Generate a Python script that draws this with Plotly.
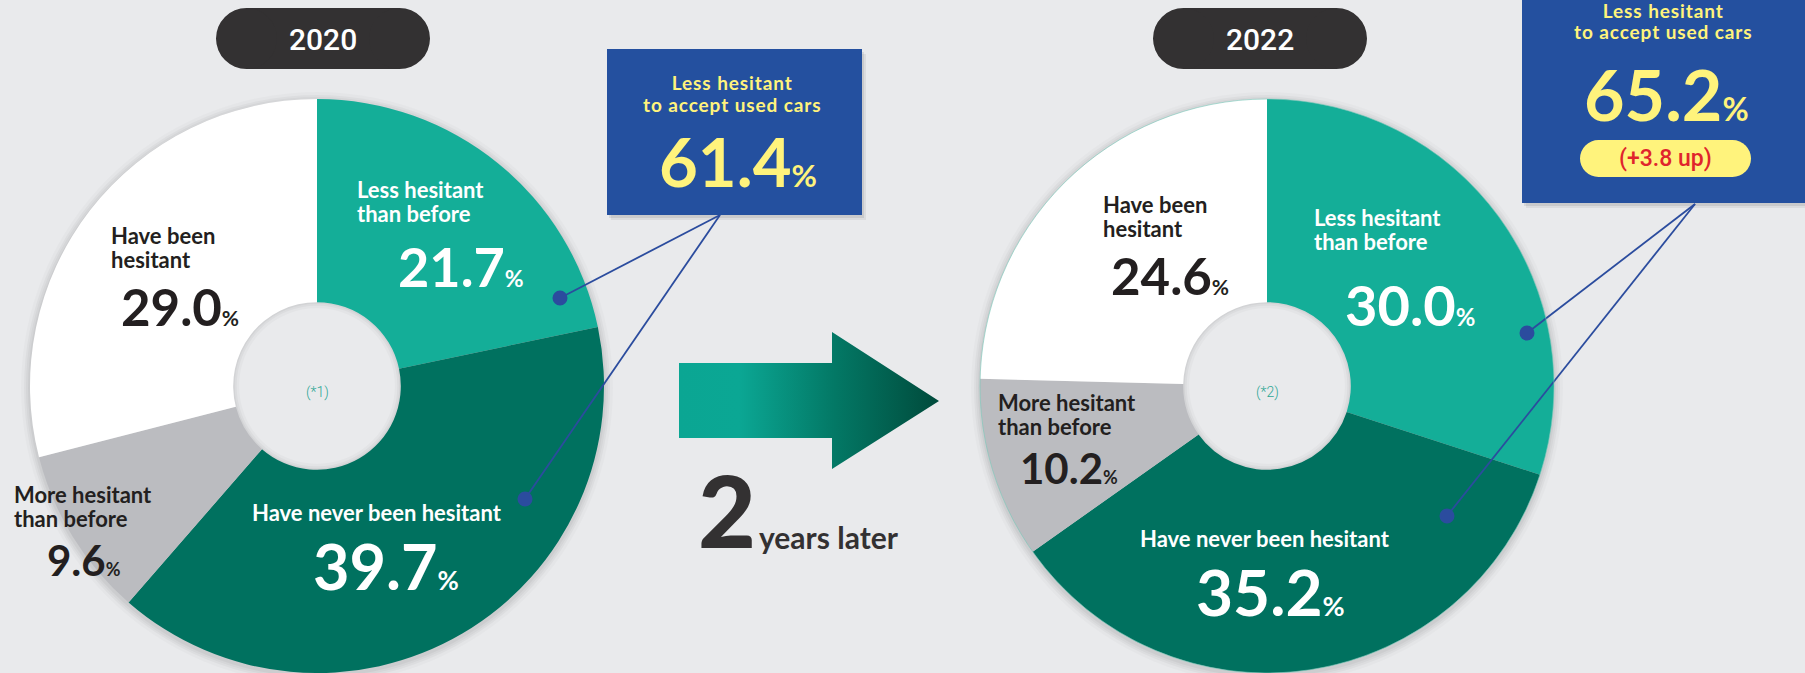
import plotly.graph_objects as go

W, H = 1805, 673

# ---- data -------------------------------------------------------------
years = ["2020", "2022"]
categories = ["Less hesitant than before", "Have never been hesitant",
              "More hesitant than before", "Have been hesitant"]
share_2020 = [21.7, 39.7, 9.6, 29.0]
share_2022 = [30.0, 35.2, 10.2, 24.6]
footnotes = ["(*1)", "(*2)"]
gap_label = ["2", "years later"]

# ---- style ------------------------------------------------------------
BG = "#E9EAEC"
SLICE_COLORS = ["#14AE98", "#00715F", "#BBBCC0", "#FFFFFF"]
LABEL_COLORS = ["#FFFFFF", "#FFFFFF", "#231F20", "#231F20"]
BLUE = "#24509F"
YELLOW = "#FFF37C"
LINE_BLUE = "#2B4C9E"
PILL = "#333132"
FONT = "Lato"
HOLE = 0.292
LABEL_PITCH = 24

# donut geometry (pixels)
donuts = [dict(cx=317, cy=386, r=287), dict(cx=1267, cy=386, r=287)]

# label lines per category
label_lines = [["Less hesitant", "than before"], ["Have never been hesitant"],
               ["More hesitant", "than before"], ["Have been", "hesitant"]]

# label placement per donut (pixels): text x, line y's, number x/y/size, anchor
label_pos = [
    [dict(x=357, ys=[190, 213], nx=399, ny=266, ns=54, a="left"),
     dict(x=377, ys=[512], nx=314, ny=565, ns=63, a="center"),
     dict(x=14, ys=[494, 518], nx=48, ny=560, ns=42, a="left"),
     dict(x=111, ys=[236, 258], nx=122, ny=306, ns=51, a="left")],
    [dict(x=1314, ys=[217, 241], nx=1346, ny=304, ns=56, a="left"),
     dict(x=1265, ys=[538], nx=1197, ny=591, ns=64, a="center"),
     dict(x=998, ys=[403, 426], nx=1021, ny=468, ns=42, a="left"),
     dict(x=1103, ys=[205, 227], nx=1112, ny=275, ns=51, a="left")],
]

# callout boxes and leader dots
callouts = [
    dict(box=(607, 49, 862, 215), apex=(720, 215), tx=732, ty=[82, 104],
         num=(738, 161), ns=67, dots=[(560, 298), (525, 499)]),
    dict(box=(1522, -6, 1812, 203), apex=(1695, 204), tx=1663, ty=[10, 31],
         num=(1666, 94), ns=70, dots=[(1527, 333), (1447, 516)],
         pill=(1580, 140, 1751, 177)),
]
year_pills = [(216, 8, 430, 69), (1153, 8, 1367, 69)]

fig = go.Figure()
shapes = []
annotations = []


def ann(x, y, text, size, color, xanchor="left", family=FONT, weight=700):
    annotations.append(dict(
        x=x, y=y, xref="x", yref="y", text=text, showarrow=False,
        xanchor=xanchor, yanchor="middle", align=xanchor,
        font=dict(family=family, size=size, color=color, weight=weight)))


def stacked(lines, size, gap):
    """Multi-line text whose glyph size differs from the line pitch."""
    return "<br>".join(f"<span style='font-size:{size}px'>{t}</span>"
                       for t in lines), gap / 1.3


def circle(cx, cy, r, fill, layer="below", line=None):
    shapes.append(dict(type="circle", xref="x", yref="y",
                       x0=cx - r, x1=cx + r, y0=cy - r, y1=cy + r,
                       fillcolor=fill, layer=layer,
                       line=line or dict(width=0)))


def rect(x0, y0, x1, y1, fill, layer="below"):
    shapes.append(dict(type="rect", xref="x", yref="y", x0=x0, x1=x1,
                       y0=y0, y1=y1, fillcolor=fill, layer=layer,
                       line=dict(width=0)))


def stadium(x0, y0, x1, y1, fill, layer="below"):
    r = (y1 - y0) / 2
    rect(x0 + r, y0, x1 - r, y1, fill, layer)
    circle(x0 + r, y0 + r, r, fill, layer)
    circle(x1 - r, y0 + r, r, fill, layer)


def pct(v, size, ratio=0.42):
    return f"{v:.1f}<span style='font-size:{round(size * ratio)}px'>%</span>"


series = [share_2020, share_2022]

for i, (year, values, d) in enumerate(zip(years, series, donuts)):
    cx, cy, r = d["cx"], d["cy"], d["r"]
    h = r * HOLE
    # soft drop shadow around the ring
    for k, a in [(9, 0.02), (6, 0.03), (4, 0.03), (2, 0.04)]:
        circle(cx, cy + 2, r + k, f"rgba(0,0,0,{a})")
    # hole keeps the page colour, with a faint inner shadow
    circle(cx, cy, h + 2, BG)
    for w, a in [(12, 0.025), (7, 0.03), (3, 0.04)]:
        circle(cx, cy, h, "rgba(0,0,0,0)",
               line=dict(width=w, color=f"rgba(0,0,0,{a})"))

    fig.add_trace(go.Pie(
        labels=categories, values=values, sort=False, direction="clockwise",
        rotation=0, hole=HOLE, textinfo="none", hoverinfo="label+percent",
        marker=dict(colors=SLICE_COLORS, line=dict(width=0)),
        domain=dict(x=[(cx - r) / W, (cx + r) / W],
                    y=[(H - cy - r) / H, (H - cy + r) / H]),
        showlegend=False))

    # slice labels
    for lines, v, p, col in zip(label_lines, values, label_pos[i], LABEL_COLORS):
        ymid = sum(p["ys"]) / len(p["ys"])
        if len(lines) > 1:
            text, base = stacked(lines, 22, LABEL_PITCH)
        else:
            text, base = lines[0], 22
        ann(p["x"] - (0 if p["a"] == "center" else 2), ymid, text, base, col,
            xanchor=p["a"])
        ann(p["nx"] - 3, p["ny"], pct(v, p["ns"]), p["ns"], col)

    # footnote marker in the hole
    ann(cx, cy + 6, footnotes[i], 14, "#2EA795", xanchor="center",
        family="Roboto", weight=300)

    # year pill
    x0, y0, x1, y1 = year_pills[i]
    stadium(x0, y0, x1, y1, PILL)
    ann((x0 + x1) / 2, (y0 + y1) / 2 + 1, year, 30, "#FFFFFF",
        xanchor="center", family="Roboto", weight=500)

    # callout: combined share of the two "not hesitant" groups
    c = callouts[i]
    total = round(values[0] + values[1], 1)
    bx0, by0, bx1, by1 = c["box"]
    rect(bx0 + 4, by0 + 5, bx1 + 4, by1 + 5, "rgba(0,0,0,0.06)")
    rect(bx0 + 2, by0 + 3, bx1 + 2, by1 + 3, "rgba(0,0,0,0.08)")
    rect(bx0, by0, bx1, by1, BLUE)
    box_lines = ["<span style='letter-spacing:0.9px'>Less hesitant</span>",
                 "<span style='letter-spacing:0.9px'>to accept used cars</span>"]
    text, base = stacked(box_lines, 19, c["ty"][1] - c["ty"][0])
    ann(c["tx"], sum(c["ty"]) / 2, text, base, YELLOW, xanchor="center")
    ann(c["num"][0], c["num"][1], pct(total, c["ns"], 0.46), c["ns"], YELLOW,
        xanchor="center")
    if "pill" in c:
        prev = round(series[i - 1][0] + series[i - 1][1], 1)
        px0, py0, px1, py1 = c["pill"]
        stadium(px0, py0, px1, py1, YELLOW)
        ann((px0 + px1) / 2, (py0 + py1) / 2, f"(+{total - prev:.1f} up)", 23,
            "#E0242C", xanchor="center", family="Roboto", weight=500)

    # leader lines and dots
    ax, ay = c["apex"]
    for dx, dy in c["dots"]:
        shapes.append(dict(type="line", xref="x", yref="y", x0=ax, y0=ay,
                           x1=dx, y1=dy, layer="above",
                           line=dict(color=LINE_BLUE, width=1.8)))
    for dx, dy in c["dots"]:
        circle(dx, dy, 7.5, LINE_BLUE, layer="above")

# thin outline on the 2022 ring
d = donuts[1]
circle(d["cx"], d["cy"], d["r"], "rgba(0,0,0,0)", layer="above",
       line=dict(width=1, color="rgba(120,200,185,0.6)"))

# arrow between the two years, teal fading to dark green
arrow_x = [679, 832, 832, 939, 832, 832, 679, 679]
arrow_y = [363, 363, 332, 401, 469, 438, 438, 363]
fig.add_trace(go.Scatter(
    x=arrow_x, y=arrow_y, mode="lines", fill="toself",
    line=dict(width=0, color="rgba(0,0,0,0)"),
    fillgradient=dict(type="horizontal",
                      colorscale=[[0, "#0BA693"], [0.23, "#0BA794"],
                                  [0.6, "#037865"], [1, "#004A3B"]]),
    hoverinfo="skip", showlegend=False))

ann(696, 509, gap_label[0], 100, "#333132", weight=900)
ann(757, 537, gap_label[1], 30, "#333132")

fig.update_layout(
    width=W, height=H, autosize=False,
    margin=dict(l=0, r=0, t=0, b=0, pad=0),
    paper_bgcolor=BG, plot_bgcolor=BG,
    xaxis=dict(range=[0, W], visible=False, fixedrange=True, domain=[0, 1]),
    yaxis=dict(range=[H, 0], visible=False, fixedrange=True, domain=[0, 1]),
    shapes=shapes, annotations=annotations,
    font=dict(family=FONT),
)

fig.write_html("out.html")
